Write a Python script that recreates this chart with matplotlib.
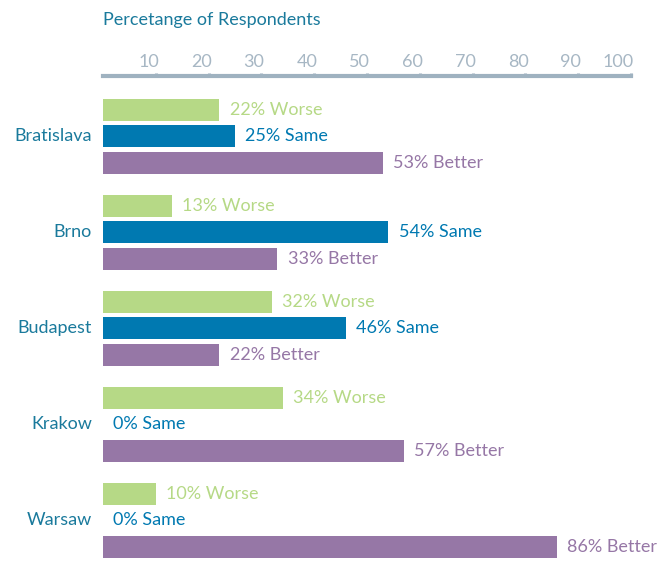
import matplotlib
matplotlib.use('Agg')
import matplotlib.pyplot as plt
import matplotlib.transforms as mtransforms
import numpy as np

plt.rcParams['font.family'] = ['Lato', 'DejaVu Sans']

# data
cities = ['Bratislava', 'Brno', 'Budapest', 'Krakow', 'Warsaw']
worse = [22, 13, 32, 34, 10]
same = [25, 54, 46, 0, 0]
better = [53, 33, 22, 57, 86]
ticks = [10, 20, 30, 40, 50, 60, 70, 80, 90, 100]

c_worse = '#b6d986'
c_same = '#0079b1'
c_better = '#9677a6'
c_text = '#1a7a9c'
c_axis = '#9fb2c0'
c_ticklab = '#a7b7c4'

W, H = 667, 573
fig = plt.figure(figsize=(W / 100, H / 100), dpi=100)
# axes: x=0 at px 103, x=100 at px 631; top spine at px 76
left, right, top = 103, 631, 76
ax = fig.add_axes([left / W, 0, (right - left) / W, 1 - top / H])

y = np.arange(len(cities))
off = 26.5 / 96
h = 22 / 96
fs = 13

series = [(worse, -off, c_worse, 'Worse'),
          (same, 0, c_same, 'Same'),
          (better, off, c_better, 'Better')]
for vals, dy, col, name in series:
    ax.barh(y + dy, vals, height=h, color=col)
    for yi, v in zip(y, vals):
        ax.annotate(f'{v}% {name}', (v, yi + dy), xytext=(7.5, 0),
                    textcoords='offset points', va='center', ha='left',
                    fontsize=fs, color=col)

ax.set_xlim(0, 100)
ax.set_ylim((H - 136) / 96, (top - 136) / 96)

# city labels
for yi, c in zip(y, cities):
    ax.annotate(c, (0, yi), xytext=(-8, 0), textcoords='offset points',
                ha='right', va='center', fontsize=fs, color=c_text)

ax.set_yticks([])
for s in ['left', 'right', 'bottom']:
    ax.spines[s].set_visible(False)
ax.spines['top'].set_color(c_axis)
ax.spines['top'].set_linewidth(3)
ax.xaxis.tick_top()
ax.set_xticks(ticks)
ax.set_xticklabels([str(t) for t in ticks], ha='right')
ax.tick_params(axis='x', direction='out', length=2.5, width=2.2,
               color=c_axis, labelcolor=c_ticklab, labelsize=fs, pad=2)
shift = mtransforms.ScaledTranslation(3 / 100, 0, fig.dpi_scale_trans)
for lab in ax.get_xticklabels():
    lab.set_transform(lab.get_transform() + shift)

fig.text(left / W, 1 - 20 / H, 'Percetange of Respondents', ha='left',
         va='center', fontsize=fs, color=c_text)

fig.savefig('out.png', dpi=100)
